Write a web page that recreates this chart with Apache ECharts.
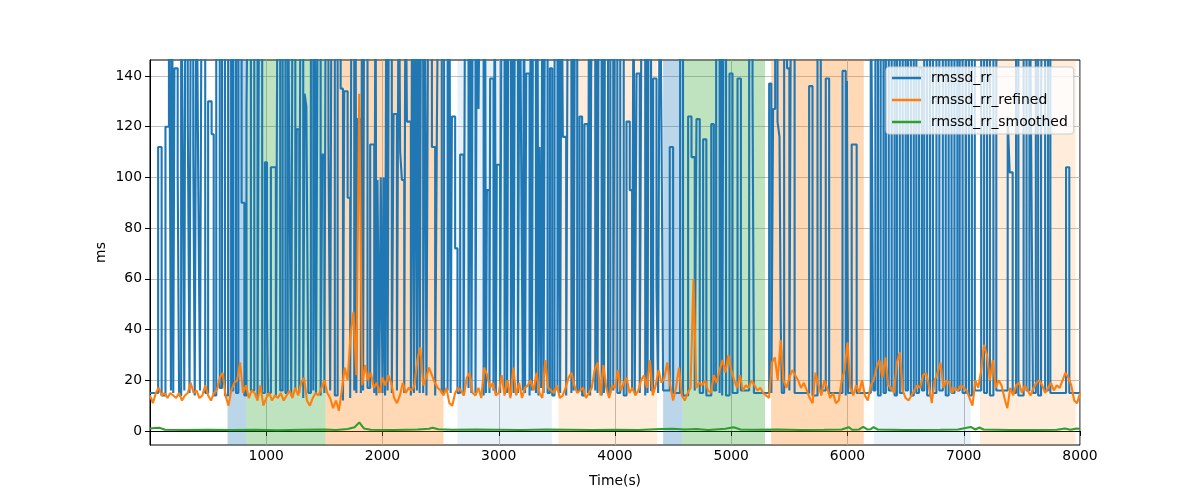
<!DOCTYPE html>
<html><head><meta charset="utf-8">
<script src="https://cdn.jsdelivr.net/npm/echarts/dist/echarts.min.js"></script>
<style>html,body{margin:0;padding:0;background:#fff}#chart{width:1200px;height:500px}</style>
</head><body><div id="chart"></div>
<script>
// ---------- DATA ----------
const xTicks = [1000, 2000, 3000, 4000, 5000, 6000, 7000, 8000];
const yTicks = [0, 20, 40, 60, 80, 100, 120, 140];
const seriesNames = ['rmssd_rr', 'rmssd_rr_refined', 'rmssd_rr_smoothed'];

// shaded periods (seconds)
const spanStart = [667, 828, 1510, 2645, 3514, 4414, 4580, 5343, 6229, 7140];
const spanEnd   = [828, 1510, 2525, 3457, 4362, 4580, 5291, 6140, 7060, 7963];
const spanKind  = ['blueDark','green','orangeDark','blueLight','orangeLight','blueDark','green','orangeDark','blueLight','orangeLight'];

// rmssd_rr: step changes (time, value held until next time)
const rrTime = [
0,70,100,133,163,180,190,200,210,238,250,268,285,295,305,325,340,352,372,385,400,415,430,445,475,500,530,548,570,600,620,645,672,698,716,740,760,788,812,830,845,868,897,925,940,965,988,
1006,1016,1040,1083,1098,1120,1141,1165,1185,1198,1215,1227,1250,1262,1284,1295,1318,1330,1345,1362,1384,1405,1418,1428,1445,1468,1482,1500,1513,1535,1550,1562,1590,1614,1640,1660,1671,1700,1722,1734,1757,1768,1775,1785,1814,1825,1833,1843,1871,1894,1929,1940,1948,1957,1972,1985,
2000,2009,2022,2034,2044,2056,2080,2095,2124,2140,2152,2167,2187,2198,2210,2244,2256,2270,2282,2296,2308,2320,2332,2350,2362,2378,2395,2425,2453,2468,2482,2510,2530,2560,2575,2586,2597,2625,2645,2668,2697,2712,2740,2755,2765,2777,2800,2812,2826,2840,2870,2882,2890,2898,2920,2926,2955,2966,2975,2983,3012,
3025,3050,3062,3072,3084,3105,3118,3128,3140,3165,3180,3193,3207,3218,3226,3236,3265,3276,3285,3296,3320,3332,3342,3351,3365,3376,3386,3398,3420,3440,3460,3480,3505,3518,3528,3540,3551,3580,3595,3625,3636,3645,3656,3675,3695,3717,3737,3766,3778,3786,3795,3809,3830,3842,3850,3860,3885,3897,3905,3915,3940,3960,3985,
4000,4020,4045,4075,4099,4127,4147,4160,4170,4185,4213,4230,4260,4272,4280,4290,4310,4328,4357,4371,4385,4400,4414,4471,4500,4560,4585,4629,4658,4686,4701,4729,4758,4786,4828,4850,4870,4900,4912,4922,4935,4955,4985,
5011,5054,5083,5154,5183,5195,5326,5345,5360,5378,5398,5415,5425,5435,5455,5480,5500,5515,5545,5670,5699,5742,5770,5813,5842,5957,5985,5995,6005,
6036,6079,6200,6212,6222,6240,6262,6285,6310,6330,6355,6380,6405,6425,6450,6475,6500,6520,6545,6570,6592,6615,6640,6660,6685,6710,6735,6765,6790,6820,6845,6870,6895,6920,6945,6965,6990,
7020,7045,7070,7095,7150,7175,7200,7225,7255,7280,7378,7395,7421,7450,7470,7515,7540,7565,7580,7595,7620,7640,7665,7680,7700,7725,7745,7880,7908,8000
];
const rrValue = [
15,112,14,120,200,16,200,15,143,102,14,200,90,16,200,123,15,200,112,14,200,98,16,200,15,130,117,14,200,17,200,14,200,16,200,15,200,90,14,127,200,16,200,13,200,15,106,
45,15,104,14,200,16,200,15,200,108,14,200,16,119,15,200,13,133,128,15,200,16,200,15,200,14,109,15,200,114,16,200,14,200,135,12,134,92,13,200,16,200,15,123,15,200,16,200,17,113,15,200,14,99,15,100,
15,100,14,200,16,200,15,125,16,200,110,99,15,200,122,14,200,15,200,16,200,15,200,15,200,14,200,112,14,120,200,15,200,16,200,15,124,72,15,109,14,200,17,200,15,200,15,200,127,200,14,200,15,95,15,139,16,200,15,105,15,
200,16,200,15,200,14,200,15,200,15,200,108,16,200,15,141,14,200,16,200,15,200,14,112,17,200,15,200,15,143,14,200,16,200,15,200,116,14,200,15,200,16,200,16,124,14,121,15,200,14,141,200,16,200,15,200,14,200,15,200,15,200,16,
200,15,200,14,122,95,16,200,15,141,15,200,14,200,15,200,16,139,57,15,200,118,16,112,15,200,14,124,108,16,123,15,115,14,121,16,200,15,200,14,200,14,141,
15,139,16,200,136,15,137,15,127,200,122,116,44,15,200,143,16,200,15,136,14,200,16,139,15,142,14,138,15,
113,15,200,105,16,200,14,200,15,200,16,200,14,200,15,200,16,200,14,200,15,143,16,200,14,200,15,200,16,200,14,200,15,200,16,200,15,
200,14,200,16,200,15,200,14,200,16,124,102,15,200,14,200,16,200,112,15,200,14,132,200,16,200,15,104,15,15
];

// rmssd_rr_refined: sampled every 25 s from 0 to 8000
const refinedStep = 25;
const refinedValue = [
14,11,15,17,14,15,13,15,14,13,15,12,14,15,19,15,16,13,14,18,14,12,15,16,21,23,14,10,16,19,20,27,15,18,13,16,15,12,18,10,13,
15,12,14,13,15,12,14,16,13,17,14,19,21,12,10,13,15,14,17,20,15,13,9,12,8,16,25,20,38,47,22,133,18,26,20,23,17,19,15,21,
18,22,19,13,11,14,19,15,17,16,18,28,33,18,21,25,22,19,17,16,14,17,11,10,15,17,16,14,21,23,15,14,17,13,25,22,17,19,14,15,
22,14,20,13,25,14,19,13,17,18,20,16,23,15,13,28,17,16,15,18,13,14,17,21,23,18,15,16,17,13,15,17,24,27,14,26,17,13,18,17,
24,16,19,21,15,17,14,16,20,22,17,28,14,18,24,19,21,27,18,12,17,25,14,12,15,17,60,17,19,18,20,16,15,22,19,24,28,23,30,24,
20,17,22,16,18,17,20,18,16,17,15,14,13,27,29,20,36,20,17,21,24,22,20,17,19,16,13,11,23,18,14,20,17,13,15,11,12,20,24,35,
17,14,18,15,20,14,12,18,20,25,28,21,29,18,17,15,27,31,16,13,12,14,16,18,17,22,23,18,11,20,23,27,17,20,19,15,17,16,18,17,
16,13,10,20,17,24,34,30,20,28,17,20,18,13,9,17,14,18,19,15,18,16,14,17,19,20,18,15,17,19,16,18,17,20,23,21,18,12,11,15
];

// rmssd_rr_smoothed
const smoothTime  = [0,40,80,130,300,500,700,900,1100,1300,1500,1600,1700,1760,1800,1840,1900,2100,2300,2400,2430,2480,2600,2800,3000,3200,3400,3600,3800,4000,4200,4400,4500,4600,4700,4800,4950,5020,5080,5200,5400,5600,5800,5950,6010,6040,6100,6135,6170,6200,6225,6260,6500,6800,6950,7060,7100,7135,7170,7400,7600,7800,7870,7920,7970,8000];
const smoothValue = [1.0,1.2,1.3,0.5,0.4,0.5,0.4,0.5,0.3,0.5,0.6,0.4,0.8,1.5,3.4,1.0,0.5,0.4,0.6,0.9,1.3,0.7,0.5,0.6,0.5,0.4,0.6,0.5,0.4,0.5,0.4,0.8,0.9,0.6,0.8,0.4,0.9,1.5,0.6,0.5,0.6,0.4,0.5,0.6,1.5,0.5,0.6,1.6,0.6,0.7,1.5,0.6,0.4,0.5,0.6,1.6,0.6,1.4,0.6,0.4,0.4,0.5,1.0,0.5,1.0,0.9];

// ---------- CHART ----------
const spanColors = {
  blueDark: 'rgba(31,119,180,0.3)',
  blueLight: 'rgba(31,119,180,0.1)',
  green: 'rgba(44,160,44,0.3)',
  orangeDark: 'rgba(255,127,14,0.3)',
  orangeLight: 'rgba(255,127,14,0.15)'
};
const FONT = 'DejaVu Sans';
const rrData = rrTime.map((t, i) => [t, rrValue[i]]);
const refinedData = refinedValue.map((v, i) => [i * refinedStep, v]);
const smoothData = smoothTime.map((t, i) => [t, smoothValue[i]]);
const areas = spanStart.map((s, i) => [
  { xAxis: s, itemStyle: { color: spanColors[spanKind[i]] } },
  { xAxis: spanEnd[i] }
]);

const chart = echarts.init(document.getElementById('chart'), null, { renderer: 'canvas' });
chart.setOption({
  animation: false,
  backgroundColor: '#ffffff',
  grid: { left: 150, top: 60, width: 930, height: 385, show: true, borderColor: '#000', borderWidth: 1, backgroundColor: 'transparent' },
  xAxis: {
    type: 'value', min: 0, max: 8000,
    name: 'Time(s)', nameLocation: 'middle', nameGap: 29,
    nameTextStyle: { fontFamily: FONT, fontSize: 13.9, color: '#000' },
    axisLine: { show: true, lineStyle: { color: '#000', width: 1 } },
    axisTick: { show: true, inside: false, length: 5, customValues: xTicks, lineStyle: { color: '#000' } },
    axisLabel: { customValues: xTicks, margin: 4, fontFamily: FONT, fontSize: 13.9, color: '#000',
                 formatter: v => String(v) },
    splitLine: { show: true, lineStyle: { color: '#b0b0b0', width: 0.8 } }
  },
  yAxis: {
    type: 'value', min: -5.52, max: 146.3,
    name: 'ms', nameLocation: 'middle', nameGap: 42, nameMoveOverlap: false,
    nameTextStyle: { fontFamily: FONT, fontSize: 13.9, color: '#000' },
    axisLine: { show: true, lineStyle: { color: '#000', width: 1 } },
    axisTick: { show: true, inside: false, length: 5, customValues: yTicks, lineStyle: { color: '#000' } },
    axisLabel: { customValues: yTicks, margin: 8, fontFamily: FONT, fontSize: 13.9, color: '#000',
                 formatter: v => String(v) },
    splitLine: { show: true, lineStyle: { color: '#b0b0b0', width: 0.8 } }
  },
  legend: {
    data: seriesNames, orient: 'vertical', left: 886, top: 67,
    icon: 'rect', itemWidth: 29, itemHeight: 2.5, itemGap: 8,
    padding: [4, 6, 5, 6],
    backgroundColor: 'rgba(255,255,255,0.8)', borderColor: '#cccccc', borderWidth: 1, borderRadius: 3,
    textStyle: { fontFamily: FONT, fontSize: 13.9, color: '#000', padding: [0, 0, 0, 5] }
  },
  series: [
    { name: 'spans', type: 'line', data: [], z: 1, silent: true,
      markArea: { silent: true, data: areas } },
    { name: seriesNames[0], type: 'line', step: 'end', data: rrData, symbol: 'none', showSymbol: false,
      color: '#1f77b4', lineStyle: { color: '#1f77b4', width: 2.1 }, z: 2, clip: true },
    { name: seriesNames[1], type: 'line', data: refinedData, symbol: 'none', showSymbol: false,
      color: '#ff7f0e', lineStyle: { color: '#ff7f0e', width: 2.1 }, z: 3, clip: true },
    { name: seriesNames[2], type: 'line', data: smoothData, symbol: 'none', showSymbol: false,
      color: '#2ca02c', lineStyle: { color: '#2ca02c', width: 2.1 }, z: 4, clip: true }
  ]
});
</script></body></html>
